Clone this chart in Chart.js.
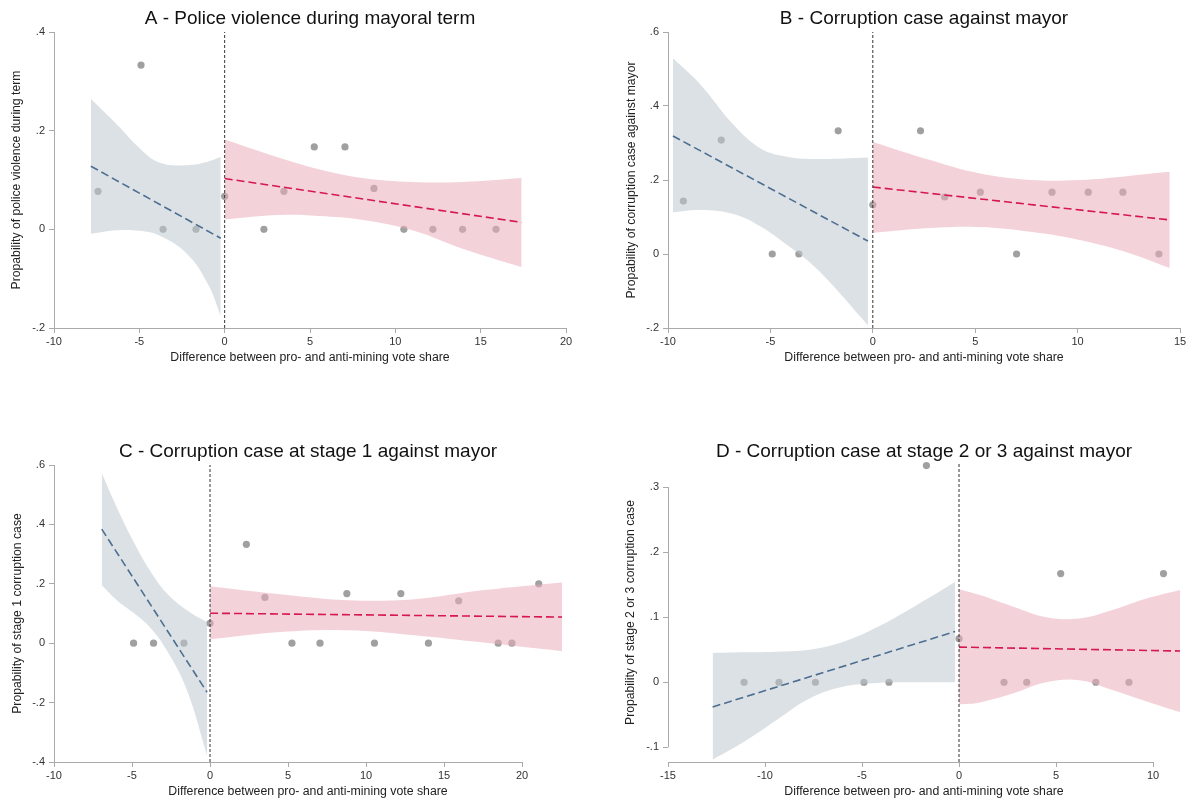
<!DOCTYPE html>
<html>
<head>
<meta charset="utf-8">
<script src="https://cdn.jsdelivr.net/npm/chart.js@4.4.1/dist/chart.umd.min.js"></script>
<style>
  body { margin: 0; background: #fff; }
  canvas { position: absolute; }
</style>
</head>
<body>
<canvas id="panelA" width="596" height="400" style="left:0;top:0"></canvas>
<canvas id="panelB" width="597" height="400" style="left:596px;top:0"></canvas>
<canvas id="panelC" width="596" height="403" style="left:0;top:400px"></canvas>
<canvas id="panelD" width="597" height="403" style="left:596px;top:400px"></canvas>
<script>
// ---- shared text ----
const xTitle = "Difference between pro- and anti-mining vote share";
const cutoff = 0;

// ---- Panel A ----
const aTitle = "A - Police violence during mayoral term";
const aYTitle = "Propability of police violence during term";
const aXTicks = [-10, -5, 0, 5, 10, 15, 20];
const aYTicks = [-0.2, 0, 0.2, 0.4];
const aYLabels = ["-.2", "0", ".2", ".4"];
const aPointX = [-7.42, -4.9, -3.61, -1.68, 0, 2.3, 3.47, 5.25, 7.05, 8.75, 10.5, 12.2, 13.94, 15.9];
const aPointY = [0.077, 0.333, 0, 0, 0.067, 0, 0.077, 0.167, 0.167, 0.083, 0, 0, 0, 0];
const aLeftBandX = [-7.84, -6.3, -5.0, -3.8, -2.2, -1.0, -0.23];
const aLeftUpper = [0.264, 0.212, 0.165, 0.135, 0.130, 0.137, 0.147];
const aLeftLower = [-0.009, -0.002, -0.003, -0.013, -0.050, -0.110, -0.175];
const aRightBandX = [0, 3.2, 5.5, 8.1, 11, 13.9, 17.4];
const aRightUpper = [0.182, 0.145, 0.122, 0.104, 0.096, 0.096, 0.104];
const aRightLower = [0.020, 0.029, 0.027, 0.019, -0.002, -0.039, -0.077];
const aLeftFitX = [-7.84, -0.23];
const aLeftFitY = [0.128, -0.018];
const aRightFitX = [0, 17.4];
const aRightFitY = [0.103, 0.014];

// ---- Panel B ----
const bTitle = "B - Corruption case against mayor";
const bYTitle = "Propability of corruption case against mayor";
const bXTicks = [-10, -5, 0, 5, 10, 15];
const bYTicks = [-0.2, 0, 0.2, 0.4, 0.6];
const bYLabels = ["-.2", "0", ".2", ".4", ".6"];
const bPointX = [-9.25, -7.4, -4.91, -3.61, -1.69, 0, 2.33, 3.51, 5.25, 7.02, 8.75, 10.52, 12.21, 13.97];
const bPointY = [0.143, 0.308, 0, 0, 0.333, 0.133, 0.333, 0.154, 0.167, 0, 0.167, 0.167, 0.167, 0];
const bLeftBandX = [-9.76, -8.4, -6.8, -5.5, -4.2, -2.7, -0.24];
const bLeftUpper = [0.529, 0.457, 0.349, 0.286, 0.263, 0.257, 0.261];
const bLeftLower = [0.113, 0.119, 0.108, 0.075, 0.025, -0.042, -0.192];
const bRightBandX = [0, 2.8, 5.2, 7.7, 10.1, 12.5, 14.5];
const bRightUpper = [0.303, 0.254, 0.218, 0.200, 0.200, 0.211, 0.222];
const bRightLower = [0.057, 0.070, 0.073, 0.060, 0.038, 0.003, -0.038];
const bLeftFitX = [-9.76, -0.24];
const bLeftFitY = [0.319, 0.035];
const bRightFitX = [0, 14.5];
const bRightFitY = [0.181, 0.092];

// ---- Panel C ----
const cTitle = "C - Corruption case at stage 1 against mayor";
const cYTitle = "Propability of stage 1 corruption case";
const cXTicks = [-10, -5, 0, 5, 10, 15, 20];
const cYTicks = [-0.4, -0.2, 0, 0.2, 0.4, 0.6];
const cYLabels = ["-.4", "-.2", "0", ".2", ".4", ".6"];
const cPointX = [-4.9, -3.62, -1.67, 0, 2.33, 3.52, 5.25, 7.05, 8.77, 10.54, 12.23, 14.0, 15.94, 18.47, 19.35, 21.07];
const cPointY = [0, 0, 0, 0.067, 0.333, 0.154, 0, 0, 0.167, 0, 0.167, 0, 0.143, 0, 0, 0.2];
const cLeftBandX = [-6.94, -5.98, -4.95, -3.86, -2.77, -1.48, -0.19];
const cLeftUpper = [0.572, 0.458, 0.347, 0.246, 0.168, 0.111, 0.071];
const cLeftLower = [0.195, 0.145, 0.104, 0.054, -0.024, -0.158, -0.377];
const cRightBandX = [0, 4.5, 8.8, 13.1, 17.4, 22.6];
const cRightUpper = [0.192, 0.165, 0.145, 0.148, 0.178, 0.205];
const cRightLower = [0.013, 0.038, 0.044, 0.027, 0.003, -0.027];
const cLeftFitX = [-6.94, -0.19];
const cLeftFitY = [0.384, -0.165];
const cRightFitX = [0, 22.6];
const cRightFitY = [0.101, 0.088];

// ---- Panel D ----
const dTitle = "D - Corruption case at stage 2 or 3 against mayor";
const dYTitle = "Propability of stage 2 or 3 corruption case";
const dXTicks = [-15, -10, -5, 0, 5, 10];
const dYTicks = [-0.1, 0, 0.1, 0.2, 0.3];
const dYLabels = ["-.1", "0", ".1", ".2", ".3"];
const dPointX = [-11.08, -9.28, -7.4, -4.9, -3.61, -1.68, 0, 2.32, 3.49, 5.24, 7.05, 8.76, 10.54];
const dPointY = [0, 0, 0, 0, 0, 0.333, 0.067, 0, 0, 0.167, 0, 0, 0.167];
const dLeftBandX = [-12.7, -11.1, -9.4, -7.7, -6.0, -4.2, -2.5, -0.2];
const dLeftUpper = [0.045, 0.046, 0.047, 0.050, 0.062, 0.085, 0.113, 0.154];
const dLeftLower = [-0.119, -0.092, -0.058, -0.025, -0.007, -0.001, 0.000, 0.000];
const dRightBandX = [0, 1.08, 2.8, 4.5, 6.2, 7.9, 9.7, 11.4];
const dRightUpper = [0.143, 0.134, 0.116, 0.100, 0.098, 0.111, 0.129, 0.142];
const dRightLower = [-0.034, -0.031, -0.017, 0.000, 0.003, -0.012, -0.030, -0.046];
const dLeftFitX = [-12.7, -0.2];
const dLeftFitY = [-0.038, 0.078];
const dRightFitX = [0, 11.4];
const dRightFitY = [0.054, 0.048];

// ---- styles ----
const pointColor = "#a0a0a0";
const blueBand = "rgba(190, 200, 208, 0.55)";
const pinkBand = "rgba(233, 173, 188, 0.55)";
const blueLine = "#4e6e91";
const pinkLine = "#d6184f";
const axisColor = "#aaaaaa";

Chart.defaults.font.family = "'Liberation Sans', Arial, sans-serif";

function xy(xs, ys) {
  return xs.map((x, i) => ({ x: x, y: ys[i] }));
}

// axis lines only from first to last tick, like the original
const axisLines = {
  id: "axisLines",
  afterDraw(chart) {
    const ctx = chart.ctx;
    const sx = chart.scales.x;
    const sy = chart.scales.y;
    ctx.save();
    ctx.strokeStyle = axisColor;
    ctx.lineWidth = 1;
    ctx.beginPath();
    const x0 = sx.getPixelForValue(sx.ticks[0].value);
    const x1 = sx.getPixelForValue(sx.ticks[sx.ticks.length - 1].value);
    const yl = Math.round(sx.top) + 0.5;
    ctx.moveTo(x0, yl);
    ctx.lineTo(x1, yl);
    const y0 = sy.getPixelForValue(sy.ticks[0].value);
    const y1 = sy.getPixelForValue(sy.ticks[sy.ticks.length - 1].value);
    const xl = Math.round(sy.right) + 0.5;
    ctx.moveTo(xl, y0);
    ctx.lineTo(xl, y1);
    ctx.stroke();
    ctx.restore();
  }
};

function bandSets(xs, upper, lower, color) {
  return [
    { data: xy(xs, upper), fill: "+1", backgroundColor: color, borderWidth: 0,
      pointRadius: 0, tension: 0.4, order: 3 },
    { data: xy(xs, lower), fill: false, borderWidth: 0,
      pointRadius: 0, tension: 0.4, order: 3 }
  ];
}

function fitSet(xs, ys, color) {
  return { data: xy(xs, ys), borderColor: color, borderWidth: 1.6, borderDash: [8, 4],
    pointRadius: 0, fill: false, order: 2 };
}

function makePanel(id, p) {
  const datasets = [
    { data: xy(p.px, p.py), showLine: false, pointRadius: 3.6, pointBackgroundColor: pointColor,
      pointBorderWidth: 0, clip: false, order: 4 },
    ...bandSets(p.lbx, p.lu, p.ll, blueBand),
    ...bandSets(p.rbx, p.ru, p.rl, pinkBand),
    fitSet(p.lfx, p.lfy, blueLine),
    fitSet(p.rfx, p.rfy, pinkLine),
    { data: [{ x: cutoff, y: p.ymin }, { x: cutoff, y: p.ymax }], borderColor: "#333",
      borderWidth: 1, borderDash: [3, 2], pointRadius: 0, fill: false, order: 1 }
  ];
  new Chart(document.getElementById(id), {
    type: "line",
    data: { datasets: datasets },
    plugins: [axisLines],
    options: {
      responsive: false,
      animation: false,
      events: [],
      layout: { padding: { left: 0, top: 0, right: p.padRight, bottom: 0 } },
      plugins: {
        legend: { display: false },
        tooltip: { enabled: false },
        title: {
          display: true, text: p.title, fullSize: false, color: "#111",
          font: { size: 19, weight: "normal", lineHeight: 1.2 },
          padding: { top: p.titleTop, bottom: p.titleBottom }
        }
      },
      scales: {
        x: {
          type: "linear", min: p.xmin, max: p.xmax,
          afterBuildTicks: s => { s.ticks = p.xticks.map(v => ({ value: v })); },
          afterFit: s => { s.height = p.xHeight; },
          ticks: { autoSkip: false, maxRotation: 0, color: "#333", font: { size: 11 }, padding: 2,
            callback: v => String(v) },
          grid: { drawOnChartArea: false, drawTicks: true, tickLength: 5, color: axisColor },
          border: { display: false },
          title: { display: true, text: xTitle, color: "#222", font: { size: 12.3 },
            padding: { top: 0, bottom: p.xTitleBottom } }
        },
        y: {
          type: "linear", min: p.ymin, max: p.ymax,
          afterBuildTicks: s => { s.ticks = p.yticks.map(v => ({ value: v })); },
          afterFit: s => { s.width = p.yWidth; },
          ticks: { autoSkip: false, color: "#333", font: { size: 11 }, padding: 4,
            callback: (v, i) => p.ylabels[i] },
          grid: { drawOnChartArea: false, drawTicks: true, tickLength: 5, color: axisColor },
          border: { display: false },
          title: { display: true, text: p.ytitle, color: "#222", font: { size: 12.2 },
            padding: { top: p.yTitleTop, bottom: 0 } }
        }
      }
    }
  });
}

makePanel("panelA", {
  title: aTitle, ytitle: aYTitle, xticks: aXTicks, yticks: aYTicks, ylabels: aYLabels,
  px: aPointX, py: aPointY,
  lbx: aLeftBandX, lu: aLeftUpper, ll: aLeftLower,
  rbx: aRightBandX, ru: aRightUpper, rl: aRightLower,
  lfx: aLeftFitX, lfy: aLeftFitY, rfx: aRightFitX, rfy: aRightFitY,
  xmin: -10, xmax: 20, ymin: -0.2, ymax: 0.4,
  padRight: 30, yWidth: 54, xHeight: 72,
  titleTop: 7.1, titleBottom: 2.1, xTitleBottom: 34.6, yTitleTop: 9.7
});

makePanel("panelB", {
  title: bTitle, ytitle: bYTitle, xticks: bXTicks, yticks: bYTicks, ylabels: bYLabels,
  px: bPointX, py: bPointY,
  lbx: bLeftBandX, lu: bLeftUpper, ll: bLeftLower,
  rbx: bRightBandX, ru: bRightUpper, rl: bRightLower,
  lfx: bLeftFitX, lfy: bLeftFitY, rfx: bRightFitX, rfy: bRightFitY,
  xmin: -10, xmax: 15, ymin: -0.2, ymax: 0.6,
  padRight: 13, yWidth: 72, xHeight: 72,
  titleTop: 7.1, titleBottom: 2.1, xTitleBottom: 34.6, yTitleTop: 28.2
});

makePanel("panelC", {
  title: cTitle, ytitle: cYTitle, xticks: cXTicks, yticks: cYTicks, ylabels: cYLabels,
  px: cPointX, py: cPointY,
  lbx: cLeftBandX, lu: cLeftUpper, ll: cLeftLower,
  rbx: cRightBandX, ru: cRightUpper, rl: cRightLower,
  lfx: cLeftFitX, lfy: cLeftFitY, rfx: cRightFitX, rfy: cRightFitY,
  xmin: -10, xmax: 22.56, ymin: -0.4, ymax: 0.6,
  padRight: 34, yWidth: 54, xHeight: 41,
  titleTop: 40.1, titleBottom: 2.1, xTitleBottom: 4.1, yTitleTop: 10.2
});

makePanel("panelD", {
  title: dTitle, ytitle: dYTitle, xticks: dXTicks, yticks: dYTicks, ylabels: dYLabels,
  px: dPointX, py: dPointY,
  lbx: dLeftBandX, lu: dLeftUpper, ll: dLeftLower,
  rbx: dRightBandX, ru: dRightUpper, rl: dRightLower,
  lfx: dLeftFitX, lfy: dLeftFitY, rfx: dRightFitX, rfy: dRightFitY,
  xmin: -15, xmax: 11.39, ymin: -0.1226, ymax: 0.337,
  padRight: 13, yWidth: 72, xHeight: 41,
  titleTop: 40.1, titleBottom: 0.1, xTitleBottom: 4.1, yTitleTop: 27.7
});
</script>
</body>
</html>
